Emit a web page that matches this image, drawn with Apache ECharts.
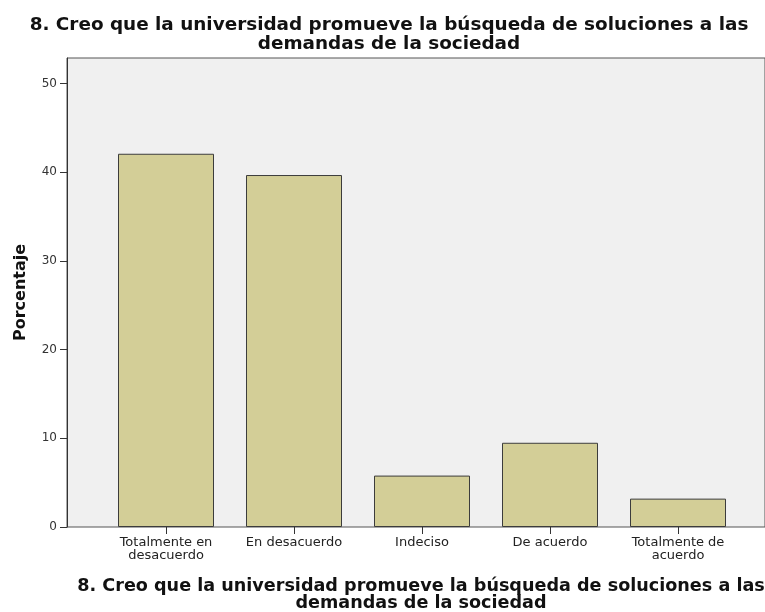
<!DOCTYPE html>
<html>
<head>
<meta charset="utf-8">
<script src="https://cdn.jsdelivr.net/npm/echarts@6/dist/echarts.min.js"></script>
<style>
	html, body { margin: 0; padding: 0; background: #fff; }
	#chart { width: 765px; height: 612px; }
</style>
</head>
<body>
<div id="chart"></div>
<script>
	// datos
	const titulo = '8. Creo que la universidad promueve la búsqueda de soluciones a las\ndemandas de la sociedad';
	const categorias = ['Totalmente en\ndesacuerdo', 'En desacuerdo', 'Indeciso', 'De acuerdo', 'Totalmente de\nacuerdo'];
	const porcentajes = [42.1, 39.7, 5.8, 9.5, 3.2];
	const ticksY = [0, 10, 20, 30, 40, 50];
	const yMax = 52.9;

	const fuente = '"DejaVu Sans", "Noto Sans", sans-serif';
	const chart = echarts.init(document.getElementById('chart'), null, { renderer: 'canvas' });

	const option = {
		animation: false,
		backgroundColor: '#ffffff',
		title: [{
			// titulo de arriba
			text: titulo,
			left: 384,
			top: 11,
			textAlign: 'center',
			textStyle: { fontFamily: fuente, fontSize: 18.4, fontWeight: 'bold', color: '#111', lineHeight: 19 }
		}, {
			// titulo del eje X
			text: titulo,
			left: 416,
			top: 573,
			textAlign: 'center',
			textStyle: { fontFamily: fuente, fontSize: 17.6, fontWeight: 'bold', color: '#111', lineHeight: 17 }
		}],
		grid: [{
			// marco gris con eje Y
			left: 67, right: -3, top: 58, bottom: 85,
			show: true,
			backgroundColor: '#f0f0f0',
			borderColor: '#555',
			borderWidth: 1
		}, {
			// zona de las barras
			left: 102, right: 23, top: 58, bottom: 85,
			show: false
		}],
		xAxis: [{
			gridIndex: 0,
			type: 'value',
			min: 0, max: 1,
			show: false
		}, {
			gridIndex: 1,
			type: 'category',
			data: categorias,
			axisLine: { show: false },
			axisTick: { show: true, alignWithLabel: true, length: 7, lineStyle: { color: '#333' } },
			axisLabel: { fontFamily: fuente, fontSize: 13, color: '#222', lineHeight: 13, margin: 9, interval: 0 }
		}],
		yAxis: [{
			gridIndex: 0,
			type: 'value',
			min: 0, max: yMax,
			name: 'Porcentaje',
			nameLocation: 'middle',
			nameGap: 38,
			nameTextStyle: { fontFamily: fuente, fontSize: 16, fontWeight: 'bold', color: '#111' },
			splitLine: { show: false },
			axisLine: { show: true, lineStyle: { color: '#333' } },
			axisTick: { show: true, length: 7, customValues: ticksY, lineStyle: { color: '#333' } },
			axisLabel: { customValues: ticksY, fontFamily: fuente, fontSize: 12, color: '#333', margin: 10 }
		}, {
			gridIndex: 1,
			type: 'value',
			min: 0, max: yMax,
			show: false
		}],
		series: [{
			type: 'bar',
			xAxisIndex: 1,
			yAxisIndex: 1,
			data: porcentajes,
			barWidth: 96,
			silent: true,
			itemStyle: { color: '#d3ce97', borderColor: '#3c3c3c', borderWidth: 1 }
		}]
	};

	chart.setOption(option);
</script>
</body>
</html>
